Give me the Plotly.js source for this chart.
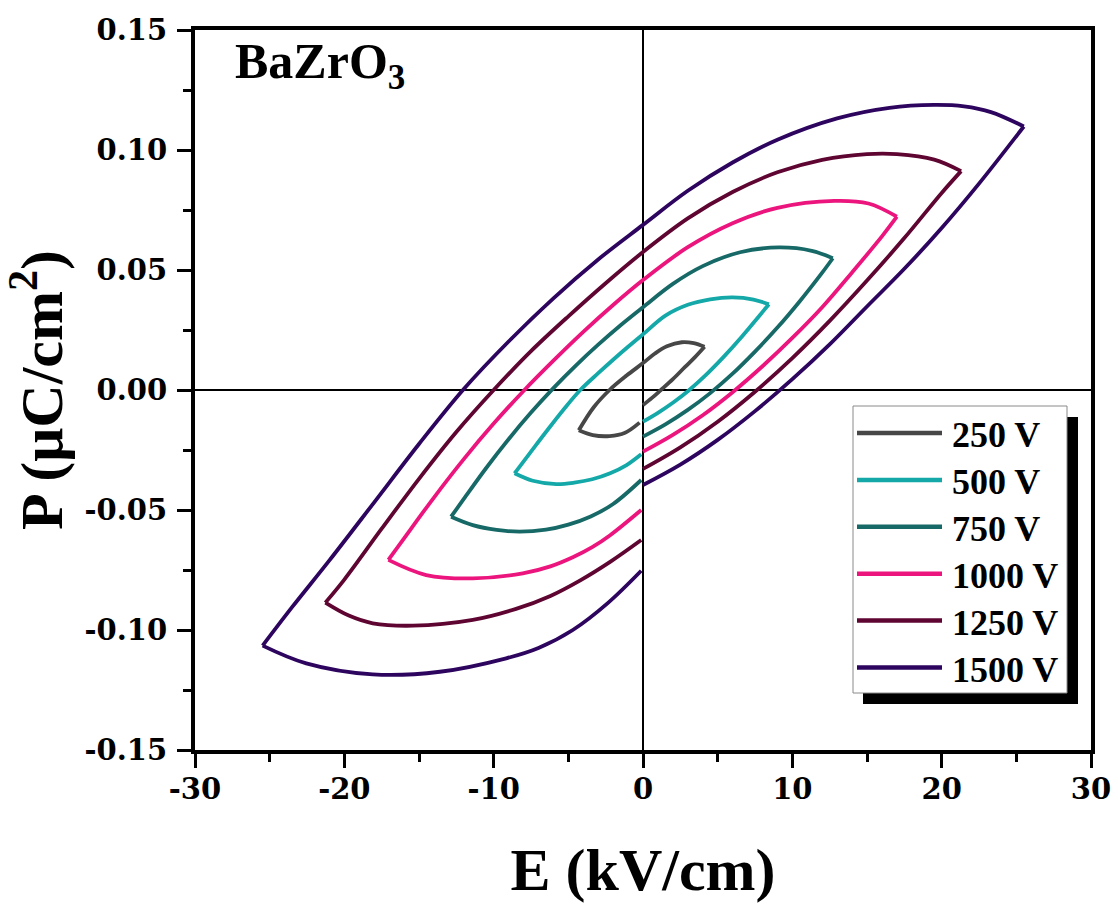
<!DOCTYPE html>
<html>
<head>
<meta charset="utf-8">
<script src="https://cdn.plot.ly/plotly-3.0.1.min.js"></script>
<style>html,body{margin:0;padding:0;background:#fff;}#chart{width:1118px;height:908px;}</style>
</head>
<body>
<div id="chart"></div>
<script>
// ---- data ----
const seriesNames = ['250 V', '500 V', '750 V', '1000 V', '1250 V', '1500 V'];
const seriesColors = ['#474747', '#14a8a8', '#166966', '#eb157d', '#5f0532', '#2d055f'];

const E250 = [0, 0.6, 1.2, 2.0, 2.8, 3.5, 4.12, 3.4, 2.6, 1.6, 0.8, 0, -1.1, -2.24, -3.3, -4.3, -3.36, -2.24, -1.2, -0.23];
const P250 = [-0.0063, -0.0033, 0, 0.0045, 0.0095, 0.0138, 0.018, 0.0195, 0.0199, 0.0182, 0.0152, 0.0112, 0.006, 0, -0.0072, -0.0168, -0.0188, -0.0192, -0.0178, -0.0136];

const E500 = [0, 1, 2, 3, 4.2, 5.4, 6.6, 7.6, 8.43, 7.4, 6, 4.5, 3, 1.5, 0, -1, -2, -3, -4.2, -5.3, -6.5, -7.6, -8.6, -7.38, -5.81, -4.6, -3.4, -2.2, -1.1, -0.12];
const P500 = [-0.0132, -0.0095, -0.0053, -0.0005, 0.0062, 0.0138, 0.0221, 0.0295, 0.0357, 0.0377, 0.0386, 0.0378, 0.0355, 0.031, 0.0232, 0.018, 0.0126, 0.007, 0, -0.008, -0.0175, -0.0265, -0.0347, -0.0378, -0.0392, -0.0386, -0.0372, -0.0347, -0.0313, -0.0268];

const E750 = [0, 1.5, 3, 4.5, 6, 7.5, 9, 10.5, 12, 12.71, 11.3, 9.1, 6.5, 4, 2, 0, -1.5, -3, -4.5, -6, -7.5, -9, -10.5, -12, -12.85, -11.4, -9.8, -8.27, -6.5, -5, -3.5, -2, -0.12];
const P750 = [-0.0194, -0.0143, -0.0083, -0.0013, 0.0068, 0.016, 0.026, 0.037, 0.0489, 0.0549, 0.058, 0.0594, 0.0574, 0.0516, 0.0442, 0.0345, 0.027, 0.0189, 0.0102, 0.0008, -0.0094, -0.0205, -0.0325, -0.0454, -0.0528, -0.0563, -0.0583, -0.059, -0.0582, -0.0561, -0.0527, -0.0475, -0.0375];

const E1000 = [0, 2, 4, 6, 8, 10, 12, 14, 16, 17.0, 15.1, 12.8, 9, 6, 3, 0, -2, -4, -6, -8, -10, -12, -14, -16, -17.05, -14.52, -11.4, -8.05, -6.2, -4.7, -3.4, -2.2, -0.12];
const P1000 = [-0.0257, -0.0187, -0.0105, -0.0009, 0.0099, 0.0217, 0.0345, 0.049, 0.064, 0.0722, 0.0777, 0.0788, 0.0759, 0.0695, 0.0595, 0.0458, 0.0354, 0.0242, 0.0122, -0.0004, -0.014, -0.0288, -0.0448, -0.0618, -0.0708, -0.0771, -0.0785, -0.0764, -0.0735, -0.0697, -0.0655, -0.0605, -0.05];

const E1250 = [0, 2.5, 5, 7.5, 10, 12.5, 15, 17.5, 20, 21.3, 19.5, 17, 15, 12, 9, 6, 3, 0, -2.5, -5, -7.5, -10, -12.5, -15, -17.5, -20, -21.27, -19.7, -18.1, -15.4, -11.4, -8.5, -6.2, -4.2, -2.2, -0.12];
const P1250 = [-0.0329, -0.0239, -0.0132, -0.0007, 0.0133, 0.0288, 0.0456, 0.0633, 0.0821, 0.0912, 0.096, 0.0983, 0.0983, 0.0959, 0.0907, 0.0825, 0.0715, 0.0575, 0.0445, 0.0307, 0.0162, 0.0, -0.0175, -0.037, -0.0578, -0.079, -0.0886, -0.094, -0.0972, -0.0982, -0.0958, -0.0912, -0.0858, -0.0793, -0.0716, -0.0625];

const E1500 = [0, 2.5, 5, 7.5, 10, 12.5, 15, 17.5, 20, 22.5, 25.5, 23.3, 21.5, 19.5, 16.5, 13, 9, 6, 3, 0, -3, -6, -9, -12, -15, -18, -21, -23.5, -25.47, -22.55, -18.1, -13.6, -9.16, -7, -4.7, -2.4, -0.12];
const P1500 = [-0.0396, -0.0311, -0.0208, -0.0088, 0.0045, 0.019, 0.0348, 0.0505, 0.0675, 0.086, 0.1098, 0.1158, 0.1182, 0.1188, 0.1176, 0.1132, 0.1043, 0.0948, 0.083, 0.0688, 0.0544, 0.0382, 0.0202, 0.0004, -0.0225, -0.0468, -0.071, -0.0905, -0.1065, -0.1139, -0.1185, -0.1174, -0.1118, -0.1075, -0.1, -0.089, -0.0753];

const xTickVals = [-30, -20, -10, 0, 10, 20, 30];
const xTickText = ['-30', '-20', '-10', '0', '10', '20', '30'];
const yTickVals = [0.15, 0.10, 0.05, 0.00, -0.05, -0.10, -0.15];
const yTickText = ['0.15', '0.10', '0.05', '0.00', '-0.05', '-0.10', '-0.15'];

// ---- build traces (each loop split at its field extremes so the tips stay sharp) ----
const loopsE = [E250, E500, E750, E1000, E1250, E1500];
const loopsP = [P250, P500, P750, P1000, P1250, P1500];

const traces = [];
loopsE.forEach((E, k) => {
  const P = loopsP[k];
  let iMax = 0, iMin = 0;
  E.forEach((v, i) => { if (v > E[iMax]) iMax = i; if (v < E[iMin]) iMin = i; });
  const cuts = [[0, iMax], [iMax, iMin], [iMin, E.length - 1]];
  cuts.forEach(c => {
    traces.push({
      x: E.slice(c[0], c[1] + 1),
      y: P.slice(c[0], c[1] + 1),
      type: 'scatter', mode: 'lines',
      name: seriesNames[k], legendgroup: seriesNames[k],
      showlegend: false,
      line: { color: seriesColors[k], width: 3.8, shape: 'spline', smoothing: 1 },
      hoverinfo: 'skip'
    });
  });
});

// ---- plot-area pixel helpers for the legend box ----
const L = 195, R = 1091, T = 30, B = 750;
const px = v => (v - L) / (R - L);
const py = v => (B - v) / (B - T);

const serif = 'Liberation Serif, Times New Roman, serif';
const shapes = [
  { type: 'rect', xref: 'paper', yref: 'paper', x0: px(863), x1: px(1078), y0: py(417), y1: py(704),
    fillcolor: '#000', line: { width: 0 }, layer: 'above' },
  { type: 'rect', xref: 'paper', yref: 'paper', x0: px(853), x1: px(1067), y0: py(406), y1: py(693),
    fillcolor: '#fff', line: { color: '#8a8a8a', width: 1 }, layer: 'above' }
];
const annotations = [
  { xref: 'paper', yref: 'paper', x: px(233), y: py(65), xanchor: 'left', yanchor: 'middle',
    text: 'BaZrO<sub>3</sub>', showarrow: false,
    font: { family: serif, size: 50, color: '#000', weight: 'bold' } }
];
seriesNames.forEach((nm, k) => {
  const yy = 433 + k * 46.9;
  shapes.push({ type: 'line', xref: 'paper', yref: 'paper', x0: px(857), x1: px(942), y0: py(yy), y1: py(yy),
    line: { color: seriesColors[k], width: 4.5 }, layer: 'above' });
  annotations.push({ xref: 'paper', yref: 'paper', x: px(950), y: py(yy + 2), xanchor: 'left', yanchor: 'middle',
    text: nm, showarrow: false,
    font: { family: serif, size: 36, color: '#000', weight: 'bold' } });
});

const tickFont = { family: 'DejaVu Serif, serif', size: 29, color: '#000', weight: 'bold' };

const layout = {
  width: 1118, height: 908,
  margin: { l: L, r: 1118 - R, t: T, b: 908 - B },
  paper_bgcolor: '#fff', plot_bgcolor: '#fff',
  showlegend: false,
  xaxis: {
    range: [-30, 30], tickmode: 'array', tickvals: xTickVals, ticktext: xTickText,
    ticks: 'outside', ticklen: 14, tickwidth: 3, tickcolor: '#000',
    minor: { ticks: 'outside', ticklen: 8, tickwidth: 3, tickcolor: '#000', dtick: 5, tick0: 0, showgrid: false },
    showline: true, linewidth: 4, linecolor: '#000', mirror: true,
    showgrid: false, zeroline: true, zerolinecolor: '#000', zerolinewidth: 1.6,
    tickfont: tickFont, ticklabelstandoff: -4,
    title: { text: 'E (kV/cm)', font: { family: serif, size: 60, color: '#000', weight: 'bold' }, standoff: 44 },
    automargin: false
  },
  yaxis: {
    range: [-0.15, 0.15], tickmode: 'array', tickvals: yTickVals, ticktext: yTickText,
    ticks: 'outside', ticklen: 14, tickwidth: 3, tickcolor: '#000',
    minor: { ticks: 'outside', ticklen: 8, tickwidth: 3, tickcolor: '#000', dtick: 0.025, tick0: 0, showgrid: false },
    showline: true, linewidth: 4, linecolor: '#000', mirror: true,
    showgrid: false, zeroline: true, zerolinecolor: '#000', zerolinewidth: 1.6,
    tickfont: tickFont, ticklabelstandoff: 4,
    title: { text: 'P (μC/cm<sup>2</sup>)\u00A0', font: { family: serif, size: 60, color: '#000', weight: 'bold' }, standoff: 18 },
    automargin: false
  },
  shapes: shapes,
  annotations: annotations
};

Plotly.newPlot('chart', traces, layout, { displayModeBar: false, staticPlot: true });
</script>
</body>
</html>
